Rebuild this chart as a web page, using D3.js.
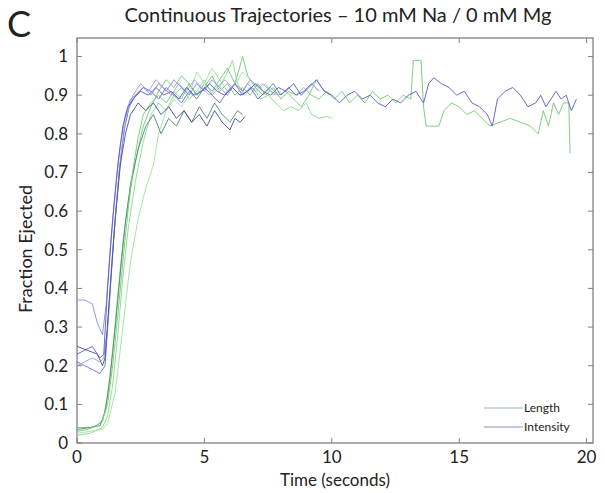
<!DOCTYPE html>
<html>
<head>
<meta charset="utf-8">
<script src="https://cdn.jsdelivr.net/npm/d3@7"></script>
<style>
  body { margin: 0; background: #fff; }
  svg { display: block; font-family: Lato, "Open Sans", sans-serif; }
</style>
</head>
<body>
<div id="chart"></div>
<script>
// trajectories as [time (s), fraction ejected]
const intensity1 = [[0,0.37],[0.3,0.37],[0.6,0.36],[0.8,0.31],[1.0,0.28],[1.15,0.36],[1.3,0.5],[1.5,0.65],[1.7,0.77],[1.9,0.85],[2.1,0.89],[2.3,0.9],[2.6,0.92],[2.9,0.9],[3.2,0.93],[3.5,0.91],[3.8,0.94],[4.1,0.92],[4.4,0.9],[4.7,0.93],[5.0,0.91],[5.3,0.94],[5.6,0.92],[5.9,0.9],[6.2,0.93],[6.5,0.91],[6.8,0.94],[7.1,0.92]];
const intensity2 = [[0,0.23],[0.3,0.24],[0.6,0.25],[0.9,0.22],[1.05,0.23],[1.2,0.4],[1.4,0.58],[1.6,0.72],[1.8,0.82],[2.0,0.87],[2.2,0.89],[2.5,0.91],[2.8,0.9],[3.1,0.92],[3.4,0.9],[3.7,0.91],[4.0,0.89],[4.3,0.92],[4.6,0.9],[4.9,0.91],[5.2,0.93],[5.5,0.91],[5.8,0.9],[6.1,0.92],[6.4,0.9],[6.7,0.91],[7.0,0.93],[7.3,0.91],[7.6,0.9],[7.9,0.92],[8.2,0.91],[8.5,0.93],[8.8,0.9],[9.1,0.92],[9.4,0.94],[9.7,0.91],[10.0,0.9],[10.3,0.88],[10.6,0.9],[10.9,0.91],[11.2,0.89],[11.5,0.9],[11.8,0.88],[12.1,0.87],[12.4,0.89],[12.7,0.88],[13.0,0.9],[13.3,0.91],[13.6,0.88],[13.8,0.93],[14.0,0.945],[14.3,0.93],[14.6,0.92],[14.9,0.9],[15.2,0.91],[15.5,0.88],[15.8,0.87],[16.1,0.85],[16.3,0.82],[16.5,0.89],[16.8,0.91],[17.1,0.92],[17.4,0.9],[17.7,0.87],[18.0,0.88],[18.2,0.9],[18.4,0.87],[18.6,0.89],[18.8,0.91],[19.0,0.89],[19.2,0.9],[19.4,0.86],[19.6,0.89]];
const intensity3 = [[0,0.21],[0.3,0.2],[0.6,0.19],[0.9,0.18],[1.1,0.2],[1.25,0.34],[1.45,0.54],[1.65,0.7],[1.85,0.81],[2.05,0.87],[2.3,0.9],[2.6,0.92],[2.9,0.91],[3.2,0.89],[3.5,0.92],[3.8,0.9],[4.1,0.88],[4.4,0.91],[4.7,0.89],[5.0,0.92],[5.3,0.9],[5.6,0.88],[5.9,0.91],[6.2,0.93],[6.5,0.9],[6.8,0.92],[7.1,0.89],[7.4,0.91],[7.7,0.93],[8.0,0.9],[8.3,0.92],[8.6,0.9],[8.9,0.91],[9.2,0.93],[9.5,0.91]];
const intensity4 = [[0,0.2],[0.3,0.21],[0.6,0.22],[0.9,0.21],[1.05,0.22],[1.2,0.3],[1.35,0.45],[1.55,0.62],[1.75,0.76],[1.95,0.85],[2.2,0.9],[2.5,0.93],[2.8,0.91],[3.1,0.94],[3.4,0.92],[3.7,0.9],[4.0,0.93],[4.3,0.91],[4.6,0.94],[4.9,0.92],[5.2,0.9],[5.5,0.92],[5.8,0.94],[6.1,0.92],[6.4,0.9],[6.7,0.93],[7.0,0.91],[7.3,0.93],[7.6,0.91],[7.9,0.9]];
const intensity5 = [[0,0.25],[0.4,0.24],[0.8,0.23],[1.0,0.2],[1.1,0.22],[1.3,0.4],[1.5,0.58],[1.7,0.72],[1.9,0.8],[2.1,0.85],[2.4,0.88],[2.7,0.86],[3.0,0.88],[3.3,0.85],[3.6,0.87],[3.9,0.84],[4.2,0.86],[4.5,0.83],[4.8,0.85],[5.1,0.82],[5.4,0.86],[5.7,0.83],[6.0,0.81],[6.2,0.84],[6.4,0.83],[6.6,0.845]];

const length1 = [[0,0.03],[0.4,0.035],[0.8,0.045],[1.0,0.06],[1.2,0.1],[1.4,0.2],[1.6,0.33],[1.8,0.47],[2.0,0.6],[2.2,0.71],[2.4,0.79],[2.6,0.85],[2.9,0.88],[3.2,0.9],[3.5,0.88],[3.8,0.91],[4.1,0.89],[4.4,0.93],[4.7,0.9],[5.0,0.92],[5.3,0.95],[5.6,0.91],[5.9,0.93],[6.2,0.9],[6.5,0.92],[6.8,0.9],[7.1,0.93],[7.4,0.9],[7.7,0.92],[8.0,0.89],[8.3,0.91],[8.6,0.9],[8.9,0.92],[9.2,0.9],[9.5,0.89],[9.8,0.91],[10.1,0.89],[10.4,0.91],[10.7,0.88],[11.0,0.9],[11.3,0.88],[11.6,0.91],[11.9,0.89],[12.2,0.9],[12.5,0.88],[12.8,0.9],[13.1,0.89],[13.2,0.99],[13.5,0.99],[13.6,0.87],[13.7,0.82],[14.2,0.82],[14.4,0.86],[14.7,0.88],[15.0,0.87],[15.3,0.85],[15.6,0.86],[15.9,0.84],[16.2,0.82],[16.6,0.83],[17.0,0.84],[17.4,0.83],[17.8,0.82],[18.1,0.8],[18.3,0.86],[18.5,0.82],[18.7,0.88],[18.9,0.85],[19.1,0.88],[19.3,0.88],[19.35,0.75]];
const length2 = [[0,0.02],[0.5,0.025],[1.0,0.04],[1.2,0.07],[1.4,0.15],[1.6,0.28],[1.8,0.43],[2.0,0.55],[2.3,0.68],[2.6,0.78],[2.9,0.85],[3.2,0.88],[3.5,0.86],[3.8,0.9],[4.1,0.92],[4.4,0.89],[4.7,0.91],[5.0,0.94],[5.3,0.9],[5.6,0.92],[5.9,0.96],[6.1,0.99],[6.3,0.93],[6.6,0.9],[6.9,0.92],[7.2,0.89],[7.5,0.9],[7.8,0.88],[8.1,0.86],[8.4,0.87],[8.7,0.86],[9.0,0.88],[9.2,0.85],[9.5,0.84],[9.8,0.845],[10.0,0.84]];
const length3 = [[0,0.04],[0.6,0.04],[1.0,0.055],[1.2,0.12],[1.4,0.24],[1.6,0.38],[1.8,0.52],[2.0,0.62],[2.3,0.73],[2.6,0.82],[2.9,0.87],[3.2,0.91],[3.5,0.94],[3.8,0.92],[4.1,0.95],[4.4,0.93],[4.7,0.9],[5.0,0.93],[5.3,0.91],[5.6,0.94],[5.9,0.97],[6.2,0.93],[6.5,1.0],[6.7,0.95],[7.0,0.92],[7.3,0.9],[7.6,0.92],[7.9,0.9],[8.2,0.91],[8.5,0.89],[8.8,0.87],[9.1,0.9],[9.4,0.94],[9.6,0.92],[9.9,0.9]];
const length4 = [[0,0.025],[0.5,0.03],[1.0,0.035],[1.2,0.05],[1.5,0.13],[1.8,0.3],[2.1,0.47],[2.4,0.58],[2.7,0.66],[3.0,0.72],[3.2,0.8],[3.5,0.86],[3.8,0.89],[4.1,0.87],[4.4,0.9],[4.7,0.96],[5.0,0.93],[5.3,0.97],[5.6,0.94],[5.9,0.91],[6.2,0.93],[6.5,0.96],[6.8,0.94],[7.1,0.91],[7.4,0.93],[7.7,0.9],[8.0,0.91]];
const length5 = [[0,0.035],[0.5,0.04],[0.9,0.045],[1.1,0.08],[1.3,0.17],[1.5,0.3],[1.7,0.44],[1.9,0.57],[2.1,0.67],[2.4,0.76],[2.7,0.82],[3.0,0.85],[3.3,0.8],[3.6,0.84],[3.9,0.82],[4.2,0.86],[4.5,0.83],[4.8,0.87],[5.1,0.84],[5.4,0.88],[5.7,0.85],[6.0,0.83],[6.3,0.86],[6.5,0.85]];

const xTicks = [0, 5, 10, 15, 20];
const yTicks = [0, 0.1, 0.2, 0.3, 0.4, 0.5, 0.6, 0.7, 0.8, 0.9, 1];
const legendLabels = ["Length", "Intensity"];

const series = [
  { data: length2, color: "#8ad88a" },
  { data: length3, color: "#6cca78" },
  { data: length4, color: "#9ae49a" },
  { data: length5, color: "#4f8a70" },
  { data: length1, color: "#72c872" },
  { data: intensity1, color: "#8a8ae4" },
  { data: intensity3, color: "#6a6ad6" },
  { data: intensity4, color: "#9a9aee" },
  { data: intensity5, color: "#44508c" },
  { data: intensity2, color: "#5a5ac0" }
];

const W = 605, H = 493;
const margin = { top: 38, right: 12, bottom: 50, left: 77 };
const width = W - margin.left - margin.right;
const height = H - margin.top - margin.bottom;

const svg = d3.select("#chart").append("svg")
  .attr("width", W)
  .attr("height", H);

const g = svg.append("g")
  .attr("transform", "translate(" + margin.left + "," + margin.top + ")");

const x = d3.scaleLinear().domain([0, 20.25]).range([0, width]);
const y = d3.scaleLinear().domain([0, 1.048]).range([height, 0]);

const axisColor = "#808080";
const textColor = "#222";

// box
g.append("rect")
  .attr("width", width)
  .attr("height", height)
  .attr("fill", "none")
  .attr("stroke", axisColor)
  .attr("stroke-width", 1.3);

// inward ticks on all four sides
const tl = 5;
g.selectAll(".xt-b").data(xTicks).enter().append("line")
  .attr("x1", d => x(d)).attr("x2", d => x(d))
  .attr("y1", height).attr("y2", height - tl)
  .attr("stroke", axisColor);
g.selectAll(".xt-t").data(xTicks).enter().append("line")
  .attr("x1", d => x(d)).attr("x2", d => x(d))
  .attr("y1", 0).attr("y2", tl)
  .attr("stroke", axisColor);
g.selectAll(".yt-l").data(yTicks).enter().append("line")
  .attr("x1", 0).attr("x2", tl)
  .attr("y1", d => y(d)).attr("y2", d => y(d))
  .attr("stroke", axisColor);
g.selectAll(".yt-r").data(yTicks).enter().append("line")
  .attr("x1", width).attr("x2", width - tl)
  .attr("y1", d => y(d)).attr("y2", d => y(d))
  .attr("stroke", axisColor);

// tick labels
g.selectAll(".xl").data(xTicks).enter().append("text")
  .attr("x", d => x(d))
  .attr("y", height + 20)
  .attr("text-anchor", "middle")
  .attr("font-size", 17)
  .attr("fill", textColor)
  .text(d => d);
g.selectAll(".yl").data(yTicks).enter().append("text")
  .attr("x", -9)
  .attr("y", d => y(d))
  .attr("dy", "0.35em")
  .attr("text-anchor", "end")
  .attr("font-size", 17)
  .attr("fill", textColor)
  .text(d => d);

// trajectories
const line = d3.line()
  .x(d => x(d[0]))
  .y(d => y(d[1]));

g.selectAll(".traj").data(series).enter().append("path")
  .attr("d", d => line(d.data))
  .attr("fill", "none")
  .attr("stroke", d => d.color)
  .attr("stroke-width", 1)
  .attr("stroke-opacity", 0.9);

// legend
const legendColors = ["#9ab89a", "#8a8ac8"];
const leg = g.append("g")
  .attr("transform", "translate(" + (width - 109) + "," + (height - 35) + ")");
legendLabels.forEach((lab, i) => {
  leg.append("line")
    .attr("x1", 0).attr("x2", 39)
    .attr("y1", i * 19).attr("y2", i * 19)
    .attr("stroke", legendColors[i]);
  leg.append("text")
    .attr("x", 40)
    .attr("y", i * 19)
    .attr("dy", "0.35em")
    .attr("font-size", 12)
    .attr("fill", textColor)
    .text(lab);
});

// axis titles
svg.append("text")
  .attr("x", margin.left + width / 2)
  .attr("y", H - 7)
  .attr("text-anchor", "middle")
  .attr("font-size", 17)
  .attr("fill", textColor)
  .text("Time (seconds)");

svg.append("text")
  .attr("transform", "translate(32,249) rotate(-90)")
  .attr("text-anchor", "middle")
  .attr("font-size", 18)
  .attr("fill", textColor)
  .text("Fraction Ejected");

svg.append("text")
  .attr("x", 338)
  .attr("y", 22)
  .attr("text-anchor", "middle")
  .attr("font-size", 20)
  .attr("fill", textColor)
  .text("Continuous Trajectories – 10 mM Na / 0 mM Mg");

svg.append("text")
  .attr("x", 7)
  .attr("y", 37)
  .attr("font-size", 36)
  .attr("fill", textColor)
  .text("C");
</script>
</body>
</html>
